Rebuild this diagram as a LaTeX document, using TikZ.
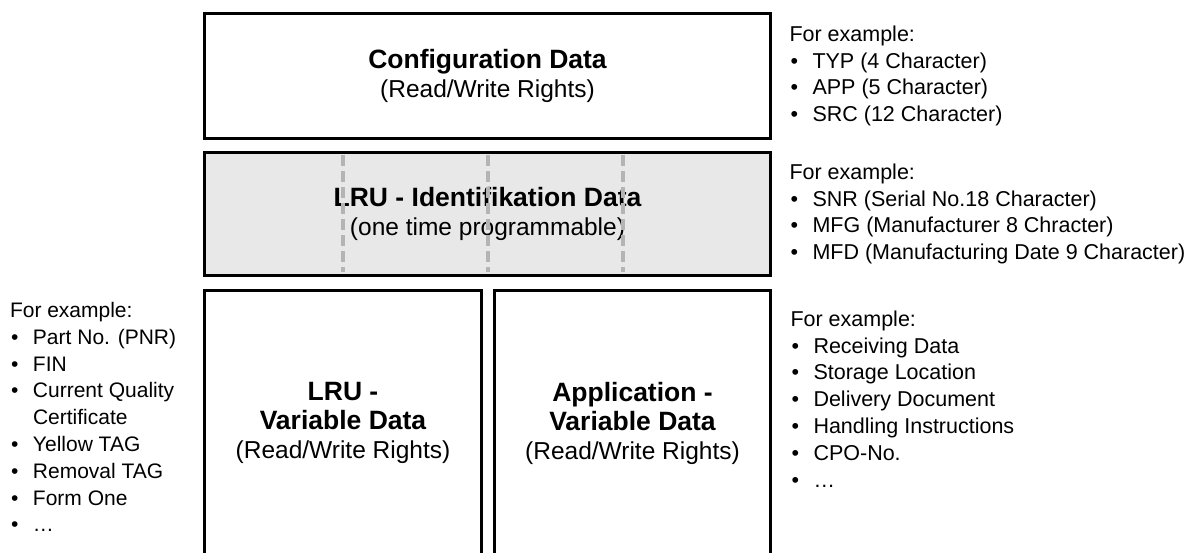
\documentclass[tikz,border=0pt]{standalone}
\usepackage{fontspec}
\setmainfont{Liberation Sans}
\usetikzlibrary{positioning,calc}

\definecolor{idgray}{HTML}{E8E8E8}
\definecolor{sepgray}{HTML}{B4B4B4}
\newcommand{\itm}{\makebox[23pt][l]{\hspace{1pt}\textbullet}}
\newcommand{\noitm}{\hspace*{23pt}}
\newcommand{\hd}[1]{{\fontsize{26.5}{29}\selectfont\bfseries #1}}

\begin{document}
\begin{tikzpicture}[
  x=1pt, y=1pt,
  box/.style={draw, line width=2.8pt, outer sep=0pt, inner sep=0pt, align=center,
    font=\fontsize{24.5}{29}\selectfont},
  list/.style={inner sep=0pt, outer sep=0pt, align=left,
    font=\fontsize{21.5}{26.8}\selectfont},
  sep/.style={sepgray, line width=4pt, dash pattern=on 11pt off 5pt}
]
\useasboundingbox (0,0) rectangle (1197,552);

% memory blocks
\node[box, minimum width=566pt, minimum height=125pt] (config) at (487.5,476)
  {\hd{Configuration Data}\\(Read/Write Rights)};
\node[box, fill=idgray, minimum width=566pt, minimum height=123pt, below=14pt of config] (ident)
  {\hd{LRU - Identifikation Data}\\(one time programmable)};
\node[box, minimum width=277pt, minimum height=265pt, below right=15pt and 0pt of ident.south west] (lruvar)
  {\hd{LRU -}\\\hd{Variable Data}\\(Read/Write Rights)};
\node[box, minimum width=276pt, minimum height=265pt, below left=15pt and 0pt of ident.south east] (appvar)
  {\hd{Application -}\\\hd{Variable Data}\\(Read/Write Rights)};

% one time programmable marks
\foreach \f in {0.245,0.5,0.74}
  \draw[sep] ($(ident.north west)!\f!(ident.north east)+(0,-3)$) -- ($(ident.south west)!\f!(ident.south east)+(0,3)$);

% examples
\node[list, right=19pt of config] (cfgex)
  {For example:\\\itm TYP (4 Character)\\\itm APP (5 Character)\\\itm SRC (12 Character)};
\node[list, right=19pt of ident] (idex)
  {For example:\\\itm SNR (Serial No.18 Character)\\\itm MFG (Manufacturer 8 Chracter)\\\itm MFD (Manufacturing Date 9 Character)};
\node[list, right=20pt of appvar, yshift=24pt] (appex)
  {For example:\\\itm Receiving Data\\\itm Storage Location\\\itm Delivery Document\\\itm Handling Instructions\\\itm CPO-No.\\\itm …};
\node[list, anchor=west, font=\fontsize{21}{26.8}\selectfont] (lruex) at (10,135)
  {For example:\\\itm Part No. (PNR)\\\itm FIN\\\itm Current Quality\\\noitm Certificate\\\itm Yellow TAG\\\itm Removal TAG\\\itm Form One\\\itm …};
\end{tikzpicture}
\end{document}
